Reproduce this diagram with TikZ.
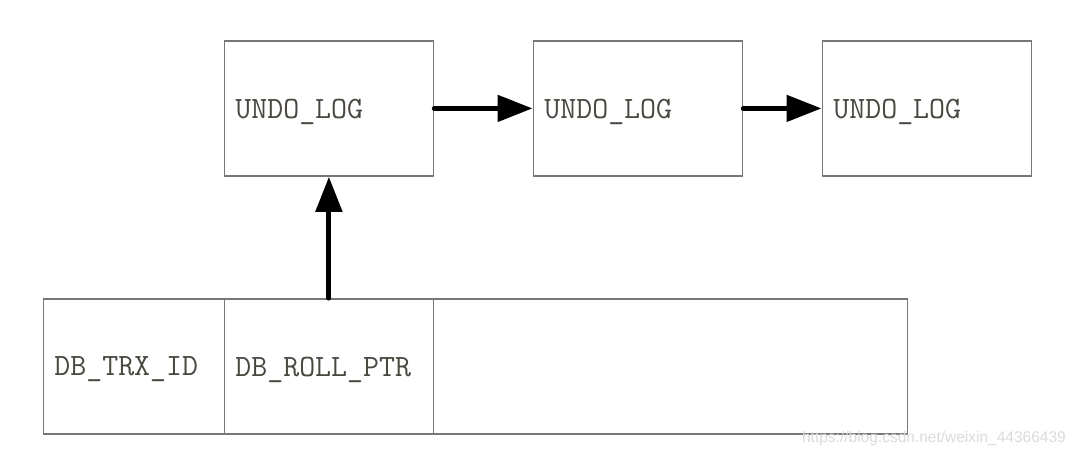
\documentclass[tikz,border=0pt]{standalone}
\usepackage{fontspec}
\setmainfont{Liberation Sans}
\usetikzlibrary{arrows.meta}

\definecolor{boxgray}{HTML}{777777}
\definecolor{labelgray}{HTML}{4A4640}
\definecolor{markgray}{HTML}{DADADA}

\tikzset{
	field/.style={draw=boxgray, line width=1.8pt, minimum height=135pt, inner xsep=11pt, inner ysep=0pt,
		text depth=0pt, anchor=north west, text=labelgray, align=left, font=\ttfamily\fontsize{31}{35}\selectfont},
	ptr/.style={line width=5pt, line cap=round, -{Triangle[length=35pt,width=26pt]}}
}

\begin{document}
\begin{tikzpicture}[x=1pt, y=-1pt]
		\useasboundingbox (0,0) rectangle (1076,456);
		
		\node[field, text width=187pt] (undoA) at (223.5,40) {UNDO\_LOG};
		\node[field, text width=187pt] (undoB) at (532.5,40) {UNDO\_LOG};
		\node[field, text width=187pt] (undoC) at (821.5,40) {UNDO\_LOG};
		
		\node[field, text width=159pt] (trx) at (42.5,298) {DB\_TRX\_ID};
		\node[field, text width=187pt] (roll) at (223.5,298) {DB\_ROLL\_PTR};
		\node[field, minimum width=474pt] (rest) at (432.5,298) {};
		
		\draw[ptr] (undoA.east) -- (undoB.west);
		\draw[ptr] (undoB.east) -- (undoC.west);
		\draw[ptr] (roll.north) -- (undoA.south);
		
		\node[text=markgray, anchor=east, inner sep=0pt, font=\fontsize{15.5}{18}\selectfont] (mark) at (1066,438) {https://blog.csdn.net/weixin\_44366439};
	\end{tikzpicture}
\end{document}
